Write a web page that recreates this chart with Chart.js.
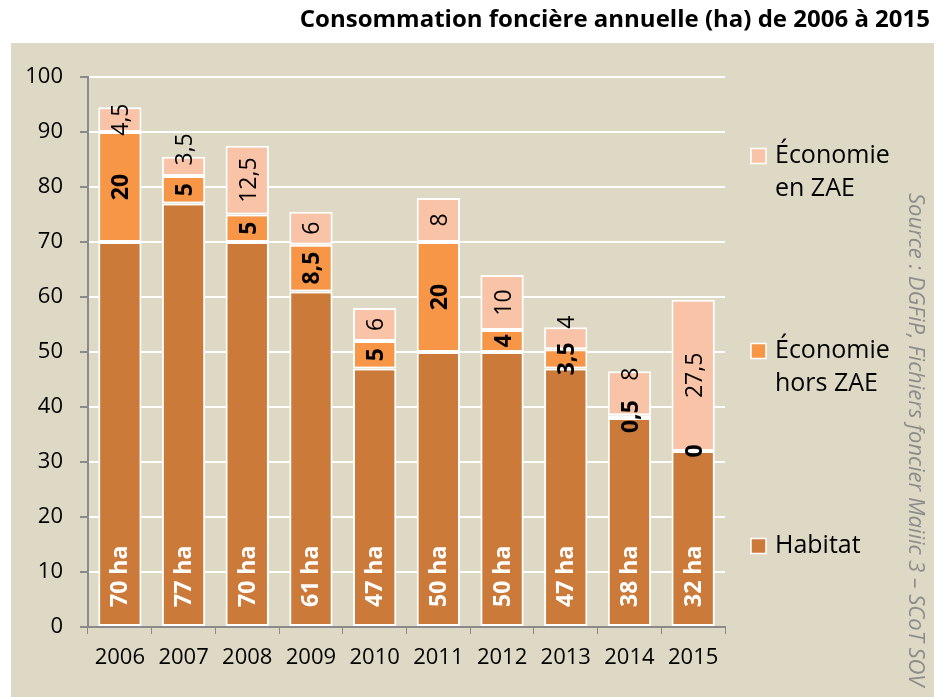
<!DOCTYPE html>
<html>
<head>
<meta charset="utf-8">
<title>Consommation foncière annuelle</title>
<script src="https://cdn.jsdelivr.net/npm/chart.js@4/dist/chart.umd.min.js"></script>
<style>
  html, body { margin: 0; padding: 0; background: #fff; }
  #wrap { width: 941px; height: 697px; position: relative; }
</style>
</head>
<body>
<div id="wrap"><canvas id="myChart"></canvas></div>
<script>
// data
const years = ['2006', '2007', '2008', '2009', '2010', '2011', '2012', '2013', '2014', '2015'];
const habitat = [70, 77, 70, 61, 47, 50, 50, 47, 38, 32];
const horsZAE = [20, 5, 5, 8.5, 5, 20, 4, 3.5, 0.5, 0];
const enZAE = [4.5, 3.5, 12.5, 6, 6, 8, 10, 4, 8, 27.5];
const yTicks = [0, 10, 20, 30, 40, 50, 60, 70, 80, 90, 100];

const FONT = "'Open Sans', 'DejaVu Sans', sans-serif";
const BEIGE = '#ddd9c4';
const AXIS_GREY = '#8a8a8a';

// small label nudges (px) for crowded "en ZAE" segments
const zaeNudge = { 1: -17, 7: -16, 8: -19 };

const fmt = v => String(v).replace('.', ',');

// panel background, title and source note
const frame = {
  id: 'frame',
  beforeDraw(chart) {
    const ctx = chart.ctx;
    ctx.save();
    ctx.fillStyle = '#fff';
    ctx.fillRect(0, 0, chart.width, chart.height);
    ctx.fillStyle = BEIGE;
    ctx.fillRect(11, 43, 923, chart.height - 43);
    ctx.restore();
  },
  afterDraw(chart) {
    const ctx = chart.ctx;
    ctx.save();
    ctx.fillStyle = '#000';
    ctx.font = 'bold 24px ' + FONT;
    ctx.textAlign = 'right';
    ctx.textBaseline = 'middle';
    ctx.fillText('Consommation foncière annuelle (ha) de 2006 à 2015', 930, 20);

    ctx.translate(915, 193);
    ctx.rotate(Math.PI / 2);
    ctx.fillStyle = '#8c8c8c';
    ctx.font = 'italic 22px ' + FONT;
    ctx.textAlign = 'left';
    ctx.fillText('Source : DGFiP, Fichiers foncier Maiiic 3 – SCoT SOV', 0, 0);
    ctx.restore();
  }
};

// rotated value labels inside the bars
const barLabels = {
  id: 'barLabels',
  afterDatasetsDraw(chart) {
    const ctx = chart.ctx;
    chart.data.datasets.forEach((ds, di) => {
      const meta = chart.getDatasetMeta(di);
      meta.data.forEach((bar, i) => {
        const v = ds.data[i];
        ctx.save();
        ctx.textBaseline = 'middle';
        if (di === 0) {
          ctx.translate(bar.x, bar.base - 19);
          ctx.rotate(-Math.PI / 2);
          ctx.fillStyle = '#fff';
          ctx.font = 'bold 23px ' + FONT;
          ctx.textAlign = 'left';
          ctx.fillText(fmt(v) + ' ha', 0, 1);
        } else {
          const nudge = di === 2 ? (zaeNudge[i] || 0) : 0;
          ctx.translate(bar.x + 1, (bar.y + bar.base) / 2 + nudge);
          ctx.rotate(-Math.PI / 2);
          ctx.fillStyle = '#000';
          ctx.font = (di === 1 ? 'bold ' : '') + '23px ' + FONT;
          ctx.textAlign = 'center';
          ctx.fillText(fmt(v), 0, 1);
        }
        ctx.restore();
      });
    });
  }
};

// legend on the right, top item = last dataset
const sideLegend = {
  id: 'sideLegend',
  afterDraw(chart) {
    const ctx = chart.ctx;
    const x0 = chart.chartArea.right + 26;
    const items = chart.data.datasets.slice().reverse();
    ctx.save();
    items.forEach((ds, k) => {
      const y = 156 + k * 195;
      ctx.fillStyle = ds.backgroundColor;
      ctx.fillRect(x0, y - 7.5, 15, 15);
      ctx.strokeStyle = '#fff';
      ctx.lineWidth = 1.5;
      ctx.strokeRect(x0, y - 7.5, 15, 15);
      ctx.fillStyle = '#000';
      ctx.font = '25px ' + FONT;
      ctx.textAlign = 'left';
      ctx.textBaseline = 'middle';
      ds.legendLines.forEach((line, j) => ctx.fillText(line, x0 + 24, y + j * 33));
    });
    ctx.restore();
  }
};

const data = {
  labels: years,
  datasets: [
    {
      label: 'Habitat',
      legendLines: ['Habitat'],
      data: habitat,
      backgroundColor: '#cb7a3a',
    },
    {
      label: 'Économie hors ZAE',
      legendLines: ['Économie', 'hors ZAE'],
      data: horsZAE,
      backgroundColor: '#f79646',
    },
    {
      label: 'Économie en ZAE',
      legendLines: ['Économie', 'en ZAE'],
      data: enZAE,
      backgroundColor: '#f9c3a8',
    },
  ]
};
data.datasets.forEach(ds => {
  ds.borderColor = '#fff';
  ds.borderWidth = 2;
  ds.borderSkipped = false;
  ds.categoryPercentage = 1;
  ds.barPercentage = 0.68;
});

const config = {
  type: 'bar',
  data,
  options: {
    responsive: true,
    maintainAspectRatio: false,
    animation: false,
    layout: { padding: { left: 0, right: 216, top: 77, bottom: 0 } },
    scales: {
      x: {
        stacked: true,
        afterFit(scale) { scale.height = 70; },
        grid: { display: true, drawOnChartArea: false, color: AXIS_GREY, tickLength: 7, offset: true },
        border: { display: true, color: AXIS_GREY, width: 2 },
        ticks: { color: '#000', font: { family: FONT, size: 22 }, padding: 11, maxRotation: 0 }
      },
      y: {
        stacked: true,
        min: 0,
        max: 100,
        afterFit(scale) { scale.width = 88; },
        afterBuildTicks(scale) { scale.ticks = yTicks.map(v => ({ value: v })); },
        grid: {
          color: ctx => ctx.tick && ctx.tick.value === 0 ? 'rgba(0,0,0,0)' : '#fff',
          lineWidth: 2,
          tickColor: AXIS_GREY,
          tickLength: 8
        },
        border: { display: true, color: AXIS_GREY, width: 2 },
        ticks: { color: '#000', font: { family: FONT, size: 22 }, padding: 17 }
      }
    },
    plugins: {
      legend: { display: false },
      title: { display: false },
      tooltip: { enabled: false }
    }
  },
  plugins: [frame, barLabels, sideLegend]
};

const myChart = new Chart(document.getElementById('myChart'), config);
</script>
</body>
</html>
